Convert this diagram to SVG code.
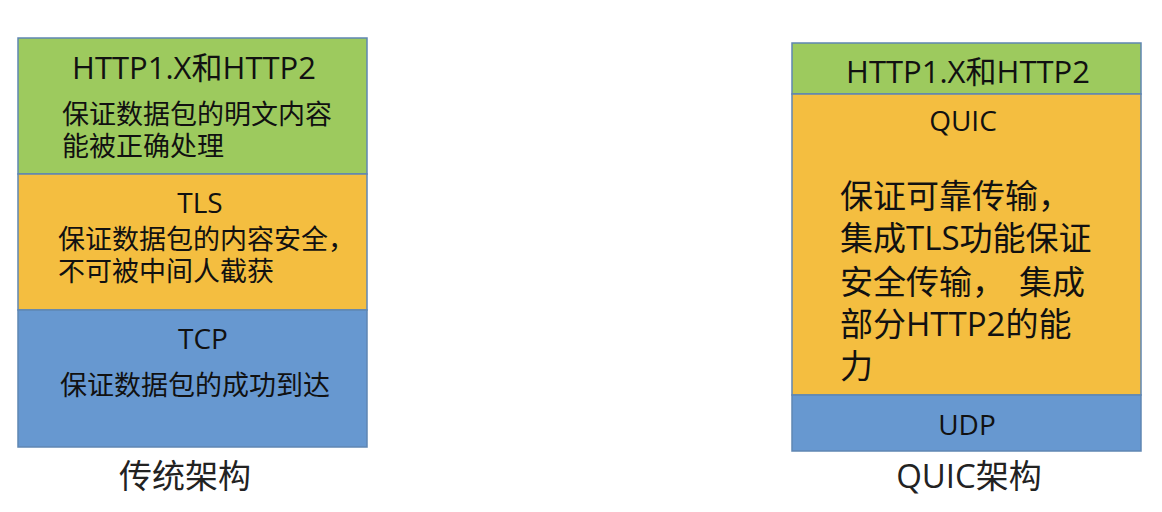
<svg xmlns="http://www.w3.org/2000/svg" width="1162" height="512" viewBox="0 0 1162 512">
<style>
.g{fill:#9DCA5E;stroke:#5F86B3;stroke-width:1.5}
.o{fill:#F4BE40;stroke:#5F86B3;stroke-width:1.5}
.b{fill:#6798D0;stroke:#5F86B3;stroke-width:1.5}
text{font-family:"Open Sans","Noto Sans CJK SC",sans-serif;fill:#111}
.t{font-size:31px;text-anchor:middle}
.h{font-size:28px;text-anchor:middle}
.s{font-size:27px}
.r{font-size:33px}
.c{font-size:33px;text-anchor:middle;fill:#222}
</style>
<rect width="1162" height="512" fill="#ffffff"/>
<g id="left-http">
<rect class="g" x="18" y="38" width="349" height="136"/>
<text class="t" x="194" y="79">HTTP1.X和HTTP2</text>
<text class="s" x="62" y="124">保证数据包的明文内容</text>
<text class="s" x="62" y="156">能被正确处理</text>
</g>
<g id="left-tls">
<rect class="o" x="18" y="174" width="349" height="136"/>
<text class="h" x="200" y="213">TLS</text>
<text class="s" x="58" y="249">保证数据包的内容安全，</text>
<text class="s" x="58" y="281">不可被中间人截获</text>
</g>
<g id="left-tcp">
<rect class="b" x="18" y="310" width="349" height="137"/>
<text class="h" x="203" y="349">TCP</text>
<text class="s" x="60" y="395">保证数据包的成功到达</text>
</g>
<g id="left-caption">
<text class="c" x="185" y="488">传统架构</text>
</g>
<g id="right-http">
<rect class="g" x="792" y="43" width="349" height="51"/>
<text class="t" x="968" y="83">HTTP1.X和HTTP2</text>
</g>
<g id="right-quic">
<rect class="o" x="792" y="94" width="349" height="301"/>
<text class="h" x="963" y="131">QUIC</text>
<text class="r" x="840" y="208">保证可靠传输，</text>
<text class="r" x="840" y="250">集成TLS功能保证</text>
<text class="r" x="840" y="294">安全传输，<tspan dx="14">集成</tspan></text>
<text class="r" x="840" y="336">部分HTTP2的能</text>
<text class="r" x="840" y="378">力</text>
</g>
<g id="right-udp">
<rect class="b" x="792" y="395" width="349" height="56"/>
<text class="h" x="967" y="435">UDP</text>
</g>
<g id="right-caption">
<text class="c" x="969" y="488">QUIC架构</text>
</g>
<g id="connectors"></g>
</svg>
